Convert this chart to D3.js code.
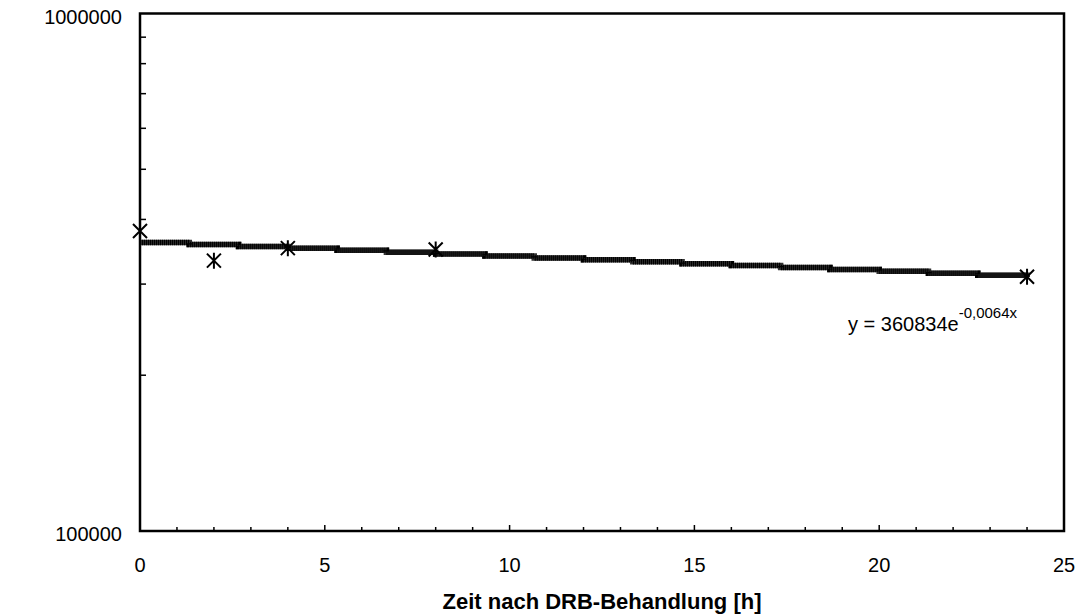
<!DOCTYPE html>
<html>
<head>
<meta charset="utf-8">
<script src="https://cdn.jsdelivr.net/npm/d3@7"></script>
<style>
  html, body { margin: 0; padding: 0; background: #fff; }
  svg { display: block; font-family: "Liberation Sans", Arial, sans-serif; }
</style>
</head>
<body>
<svg id="chart" width="1080" height="616"></svg>
<script>
// Measured prothrombin mRNA after DRB treatment
const times = [0, 2, 4, 8, 24];
const mrna = [380000, 333000, 352000, 350000, 310000];

// Exponential trend line coefficients: y = A * e^(k x)
const trendA = 360834;
const trendK = -0.0064;

const xTicks = [0, 5, 10, 15, 20, 25];
const yTickLabels = [100000, 1000000];
const yMinorTicks = [200000, 300000, 400000, 500000, 600000, 700000, 800000, 900000];

const svg = d3.select("#chart");
const plot = { left: 140, right: 1064, top: 13.5, bottom: 531 };

const x = d3.scaleLinear().domain([0, 25]).range([plot.left, plot.right]);
const y = d3.scaleLog().domain([100000, 1000000]).range([plot.bottom, plot.top]);

// Minor x ticks every hour, pointing into the plot
const minorX = d3.range(1, 25).filter(v => v % 5 !== 0);
svg.append("g").selectAll("line").data(minorX).join("line")
  .attr("x1", d => x(d)).attr("x2", d => x(d))
  .attr("y1", plot.bottom).attr("y2", plot.bottom - 4)
  .attr("stroke", "#000").attr("stroke-width", 1.5);
svg.append("g").selectAll("line").data(xTicks).join("line")
  .attr("x1", d => x(d)).attr("x2", d => x(d))
  .attr("y1", plot.bottom).attr("y2", plot.bottom - 6)
  .attr("stroke", "#000").attr("stroke-width", 1.5);

// Minor y ticks
svg.append("g").selectAll("line").data(yMinorTicks).join("line")
  .attr("x1", plot.left).attr("x2", plot.left + 6)
  .attr("y1", d => y(d)).attr("y2", d => y(d))
  .attr("stroke", "#000").attr("stroke-width", 1.5);

// Plot frame
svg.append("rect")
  .attr("x", plot.left).attr("y", plot.top)
  .attr("width", plot.right - plot.left).attr("height", plot.bottom - plot.top)
  .attr("fill", "none").attr("stroke", "#000").attr("stroke-width", 2.5);

// Tick labels
svg.append("g").selectAll("text").data(xTicks).join("text")
  .attr("x", d => x(d)).attr("y", 572)
  .attr("text-anchor", "middle").attr("font-size", 20).attr("fill", "#000")
  .text(d => d);
svg.append("g").selectAll("text").data(yTickLabels).join("text")
  .attr("x", 122).attr("y", d => y(d) + 10)
  .attr("text-anchor", "end").attr("font-size", 20).attr("fill", "#000")
  .text(d => d);

// Axis titles
svg.append("text")
  .attr("x", (plot.left + plot.right) / 2).attr("y", 609)
  .attr("text-anchor", "middle").attr("font-size", 22).attr("font-weight", "bold")
  .text("Zeit nach DRB-Behandlung [h]");

svg.append("clipPath").attr("id", "ytitle-clip")
  .append("rect").attr("x", 0).attr("y", 167).attr("width", 60).attr("height", 450);
svg.append("text")
  .attr("clip-path", "url(#ytitle-clip)")
  .attr("transform", "translate(27,372) rotate(-90)")
  .attr("text-anchor", "start").attr("font-size", 22).attr("font-weight", "bold")
  .text("Prothrombin-mRNA");

// Trend line over the measured range, drawn as short stepped runs
const stepCount = 18;
const trendX = d3.range(stepCount + 1).map(i => 24 * i / stepCount);
const trendLine = d3.line()
  .curve(d3.curveStepAfter)
  .x(d => x(d))
  .y(d => y(trendA * Math.exp(trendK * d)));
svg.append("path").datum(trendX)
  .attr("d", trendLine)
  .attr("fill", "none").attr("stroke", "#333").attr("stroke-width", 5.5);
svg.append("path").datum(trendX)
  .attr("d", trendLine)
  .attr("fill", "none").attr("stroke", "#000").attr("stroke-width", 5.5)
  .attr("stroke-dasharray", "1.2,0.8");

// Asterisk markers
const star = "M-7,-7L7,7M-7,7L7,-7M0,-8L0,8";
svg.append("g").selectAll("path").data(times.map((t, i) => [t, mrna[i]])).join("path")
  .attr("transform", d => `translate(${x(d[0])},${y(d[1])})`)
  .attr("d", star)
  .attr("fill", "none").attr("stroke", "#000").attr("stroke-width", 2);

// Equation label
const eq = svg.append("text")
  .attr("x", 848).attr("y", 331)
  .attr("font-size", 20).attr("fill", "#000");
eq.append("tspan").text(`y = ${trendA}e`);
eq.append("tspan").attr("dy", -13).attr("font-size", 15)
  .text(`${String(trendK).replace(".", ",")}x`);
</script>
</body>
</html>
